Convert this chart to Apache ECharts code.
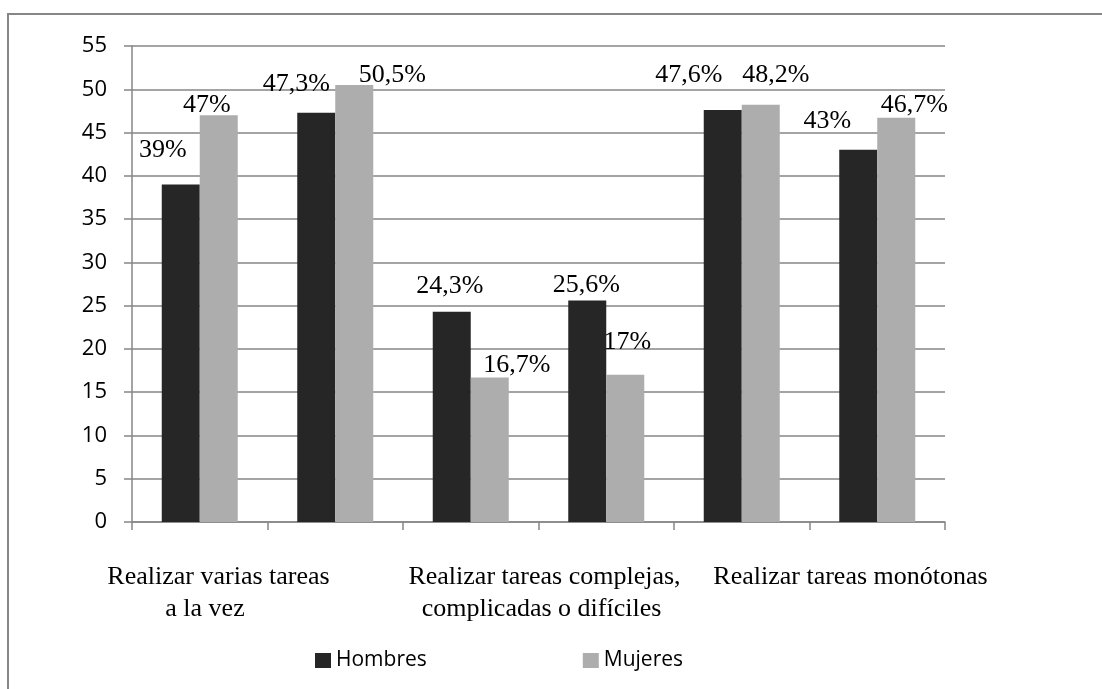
<!DOCTYPE html>
<html>
<head>
<meta charset="utf-8">
<script src="https://cdn.jsdelivr.net/npm/echarts@6/dist/echarts.min.js"></script>
<style>
  html, body { margin: 0; padding: 0; background: #ffffff; }
  #chart { width: 1102px; height: 689px; }
</style>
</head>
<body>
<div id="chart"></div>
<script>
// Task groups shown under the axis; each group spans two bar slots
const groupLabels = [
  'Realizar varias tareas\na la vez',
  'Realizar tareas complejas,\ncomplicadas o difíciles',
  'Realizar tareas monótonas'
];
// Six bar slots along the category axis (two per group)
const slots = ['g1a', 'g1b', 'g2a', 'g2b', 'g3a', 'g3b'];
const seriesNames = ['Hombres', 'Mujeres'];
const hombres = [39, 47.3, 24.3, 25.6, 47.6, 43];
const mujeres = [47, 50.5, 16.7, 17, 48.2, 46.7];
const yTicks = { min: 0, max: 55, step: 5 };

// Hand-placed label nudges (px) relative to the default "top" spot
const hombresLabelShift = [[-18, -16], [-20, -10], [-2, -8], [-1, 3], [-34, -17], [-31, -11]];
const mujeresLabelShift = [[-12, 8], [38, 8], [27, 6], [2, -15], [15, -12], [18, 5]];

const pct = v => String(v).replace('.', ',') + '%';

function withLabels(values, shifts) {
  return values.map((v, i) => ({ value: v, label: { offset: shifts[i] } }));
}

// Per-line horizontal nudges for the group captions (rich padding shifts each line)
const captionRich = {
  a1: { padding: [0, 98, 0, 0] },
  a2: { padding: [0, 125, 0, 0] },
  b1: { padding: [0, 0, 0, 12] },
  b2: { padding: [0, 0, 0, 6] },
  c1: { padding: [0, 0, 0, 82] }
};
const captionTags = [['a1', 'a2'], ['b1', 'b2'], ['c1']];
Object.keys(captionRich).forEach(k => {
  Object.assign(captionRich[k], {
    fontFamily: '"Liberation Serif", "Times New Roman", serif',
    fontSize: 26, lineHeight: 32, color: '#000', align: 'center'
  });
});

const gridColor = '#868686';
const chart = echarts.init(document.getElementById('chart'), null, { renderer: 'canvas' });

chart.setOption({
  backgroundColor: '#ffffff',
  animation: false,
  graphic: [{
    type: 'rect',
    shape: { x: 8, y: 14, width: 1200, height: 800 },
    style: { fill: 'none', stroke: '#868686', lineWidth: 2 },
    silent: true,
    z: 100
  }],
  grid: { left: 132, right: 157, top: 46, bottom: 167, containLabel: false },
  legend: {
    data: seriesNames,
    left: 310,
    top: 645,
    icon: 'rect',
    itemWidth: 16,
    itemHeight: 15,
    itemGap: 156,
    textStyle: { fontFamily: '"Open Sans", sans-serif', fontSize: 21, color: '#000' }
  },
  xAxis: [{
    type: 'category',
    data: slots,
    axisLine: { lineStyle: { color: gridColor, width: 1.5 } },
    axisTick: { show: true, length: 8, alignWithLabel: false, interval: 0, lineStyle: { color: gridColor, width: 1.5 } },
    axisLabel: { show: false },
    splitLine: { show: false }
  }, {
    type: 'category',
    data: groupLabels,
    position: 'bottom',
    axisLine: { show: false, onZero: false },
    axisTick: { show: false },
    splitLine: { show: false },
    axisLabel: {
      interval: 0,
      margin: 39,
      formatter: (value, idx) => value.split('\n')
        .map((line, j) => '{' + captionTags[idx][j] + '|' + line + '}').join('\n'),
      rich: captionRich
    }
  }],
  yAxis: {
    type: 'value',
    min: yTicks.min,
    max: yTicks.max,
    interval: yTicks.step,
    axisLine: { show: true, lineStyle: { color: gridColor, width: 1.5 } },
    axisTick: { show: true, length: 8, lineStyle: { color: gridColor, width: 1.5 } },
    axisLabel: { margin: 25, fontFamily: '"Open Sans", sans-serif', fontSize: 22, color: '#000' },
    splitLine: { show: true, lineStyle: { color: gridColor, width: 1.5 } }
  },
  series: [{
    name: seriesNames[0],
    type: 'bar',
    xAxisIndex: 0,
    data: withLabels(hombres, hombresLabelShift),
    barWidth: 38,
    barGap: '0%',
    itemStyle: { color: '#262626' },
    label: {
      show: true, position: 'top', distance: 5,
      formatter: p => pct(p.value),
      fontFamily: '"Liberation Serif", "Times New Roman", serif', fontSize: 26, color: '#000'
    }
  }, {
    name: seriesNames[1],
    type: 'bar',
    xAxisIndex: 0,
    data: withLabels(mujeres, mujeresLabelShift),
    barWidth: 38,
    barGap: '0%',
    itemStyle: { color: '#adadad' },
    label: {
      show: true, position: 'top', distance: 5,
      formatter: p => pct(p.value),
      fontFamily: '"Liberation Serif", "Times New Roman", serif', fontSize: 26, color: '#000'
    }
  }]
});
</script>
</body>
</html>
